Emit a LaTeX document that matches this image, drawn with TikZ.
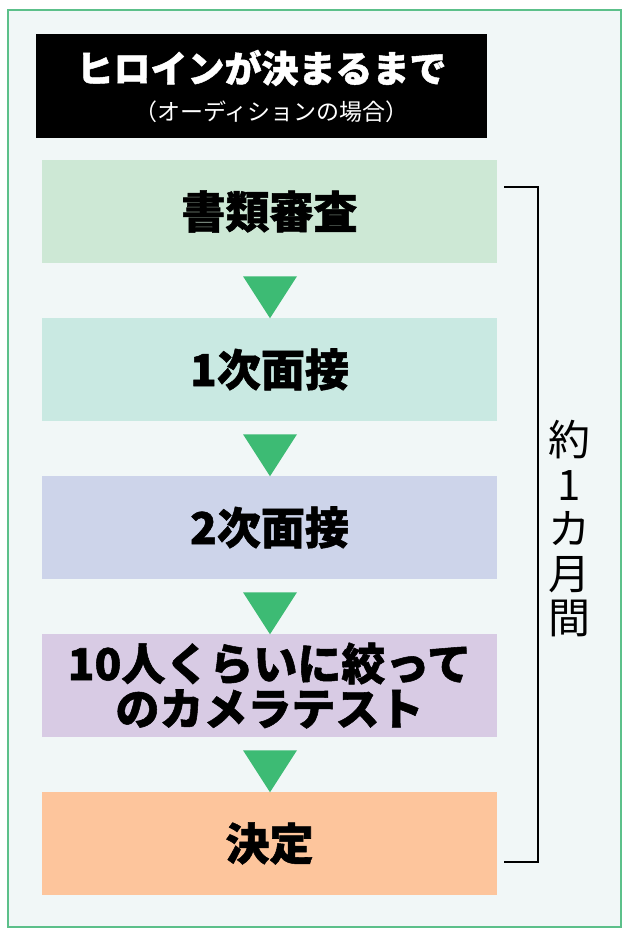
\documentclass[tikz,border=0pt]{standalone}
\usepackage{fontspec}
\setmainfont{Noto Sans CJK JP}[BoldFont={Noto Sans CJK JP Black}, BoldFeatures={FakeBold=1.2}]
\usetikzlibrary{shapes.geometric}
\definecolor{framec}{HTML}{5CC08A}
\definecolor{bgc}{HTML}{F1F7F7}
\definecolor{arrowc}{HTML}{3DBB74}
\definecolor{boxa}{HTML}{CDE8D5}
\definecolor{boxb}{HTML}{C9E9E2}
\definecolor{boxc}{HTML}{CDD4EA}
\definecolor{boxd}{HTML}{D8CBE4}
\definecolor{boxe}{HTML}{FDC59C}
\tikzset{
  stepbox/.style={minimum width=455pt, minimum height=103pt, inner sep=0pt,
    align=center, font=\fontsize{44}{45}\selectfont\bfseries},
  downtri/.style={isosceles triangle, isosceles triangle stretches,
    shape border rotate=-90, minimum width=54pt, minimum height=42pt,
    inner sep=0pt, fill=arrowc}
}
\begin{document}
\begin{tikzpicture}[x=1pt,y=-1pt]
  \useasboundingbox (0,0) rectangle (630,936);
  \draw[line width=2.5pt, framec, fill=bgc] (8,10) rectangle (621,927);
  \fill (36,34) rectangle (487,138);
  \node[white, font=\fontsize{37}{40}\selectfont\bfseries] (title) at (261.5,68) {ヒロインが決まるまで};
  \node[white, font=\fontsize{23}{25}\selectfont] (sub) at (271.5,112) {（オーディションの場合）};
  \node[stepbox, fill=boxa] (shorui) at (269.5,211.5) {書類審査};
  \node[stepbox, fill=boxb] (ichiji) at (269.5,369.5) {1次面接};
  \node[stepbox, fill=boxc] (niji) at (269.5,527.5) {2次面接};
  \node[stepbox, fill=boxd] (camera) at (269.5,685.5) {10人くらいに絞って\\のカメラテスト};
  \node[stepbox, fill=boxe] (kettei) at (269.5,843.5) {決定};
  \node[downtri] (t1) at (270,291) {};
  \node[downtri] (t2) at (270,449) {};
  \node[downtri] (t3) at (270,607) {};
  \node[downtri] (t4) at (270,765) {};
  \coordinate (bt) at (504,187);
  \coordinate (bb) at (504,862);
  \draw[line width=1.6pt] (bt) -- (538,187) -- (538,862) -- (bb);
  \node[align=center, font=\fontsize{42}{44.5}\selectfont] (period) at (569,529) {約\\1\\カ\\月\\間};
\end{tikzpicture}
\end{document}
